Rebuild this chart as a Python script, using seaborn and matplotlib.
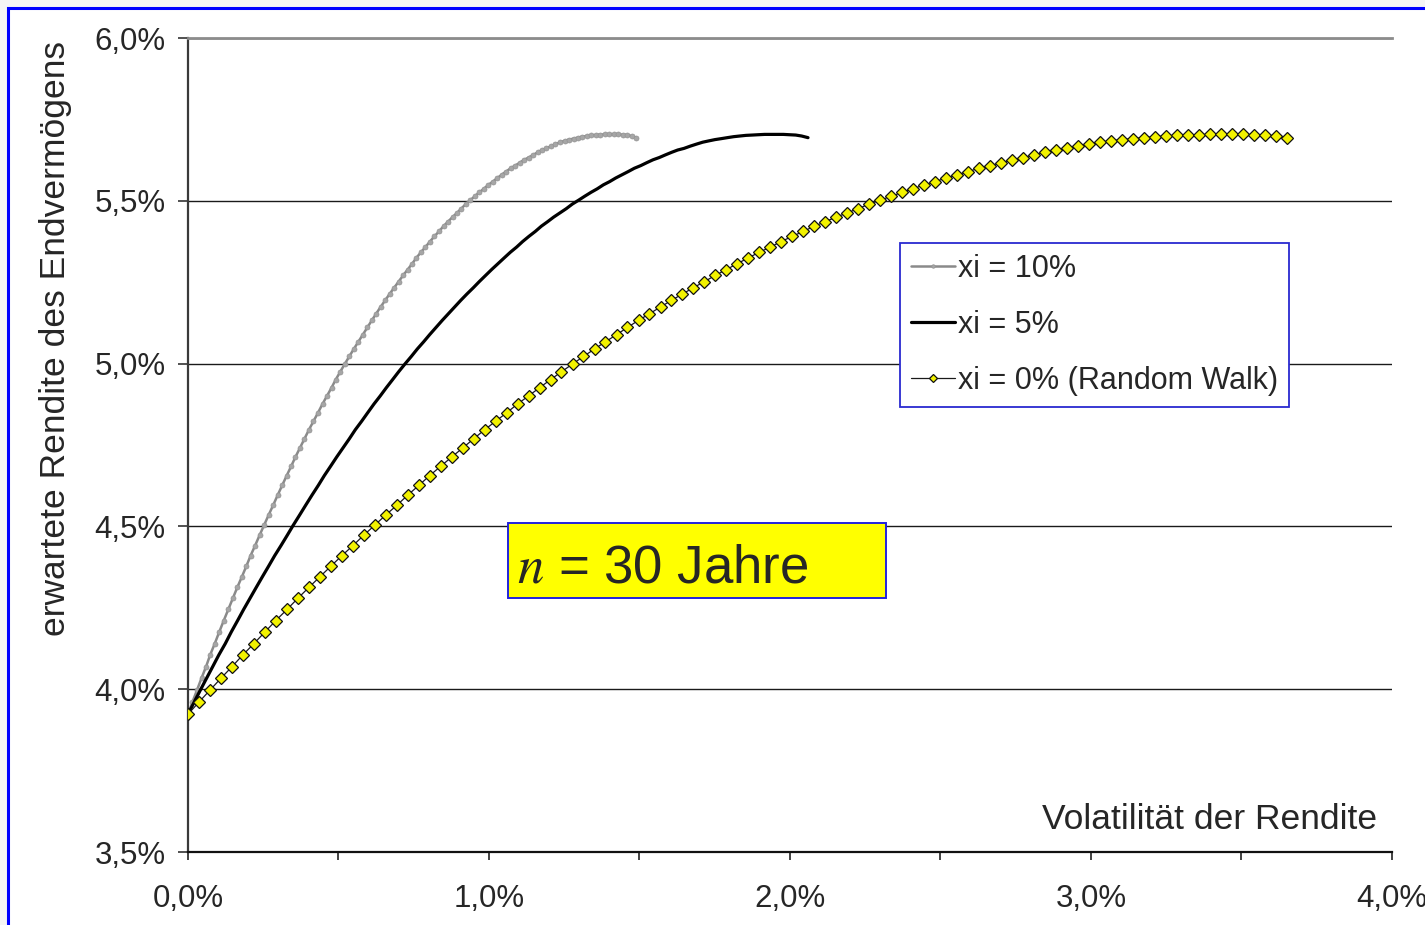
import matplotlib
matplotlib.use("Agg")
import matplotlib.pyplot as plt
import seaborn as sns
from matplotlib.patches import Rectangle
from matplotlib.ticker import MultipleLocator, FuncFormatter

# expected return of final wealth (same levels on all three curves)
rendite = [3.923, 3.961, 3.997, 4.034, 4.069, 4.106, 4.140, 4.176, 4.211, 4.245,
           4.279, 4.313, 4.345, 4.378, 4.410, 4.441, 4.473, 4.504, 4.535, 4.565,
           4.596, 4.626, 4.656, 4.685, 4.713, 4.741, 4.769, 4.797, 4.823, 4.849,
           4.876, 4.901, 4.926, 4.951, 4.975, 4.999, 5.022, 5.045, 5.067, 5.089,
           5.111, 5.133, 5.153, 5.174, 5.194, 5.214, 5.233, 5.252, 5.271, 5.289,
           5.307, 5.325, 5.342, 5.358, 5.375, 5.391, 5.406, 5.422, 5.436, 5.450,
           5.463, 5.476, 5.490, 5.502, 5.514, 5.526, 5.537, 5.549, 5.559, 5.570,
           5.580, 5.590, 5.600, 5.608, 5.617, 5.626, 5.633, 5.641, 5.649, 5.656,
           5.661, 5.668, 5.674, 5.680, 5.684, 5.688, 5.691, 5.694, 5.697, 5.699,
           5.701, 5.702, 5.703, 5.704, 5.704, 5.704, 5.704, 5.703, 5.702, 5.699,
           5.694]

# volatility, xi = 10%
vol_10 = [0.000, 0.015, 0.030, 0.045, 0.060, 0.074, 0.089, 0.104, 0.119, 0.134,
          0.149, 0.164, 0.179, 0.194, 0.208, 0.223, 0.238, 0.253, 0.268, 0.283,
          0.298, 0.313, 0.328, 0.343, 0.357, 0.372, 0.387, 0.402, 0.417, 0.432,
          0.447, 0.462, 0.477, 0.491, 0.506, 0.521, 0.536, 0.551, 0.566, 0.581,
          0.596, 0.611, 0.625, 0.640, 0.655, 0.670, 0.685, 0.700, 0.715, 0.730,
          0.745, 0.759, 0.774, 0.789, 0.804, 0.819, 0.834, 0.849, 0.864, 0.879,
          0.894, 0.908, 0.923, 0.938, 0.953, 0.968, 0.983, 0.998, 1.013, 1.028,
          1.042, 1.057, 1.072, 1.087, 1.102, 1.117, 1.132, 1.147, 1.162, 1.176,
          1.191, 1.206, 1.221, 1.236, 1.251, 1.266, 1.281, 1.296, 1.310, 1.325,
          1.340, 1.355, 1.370, 1.385, 1.400, 1.415, 1.430, 1.445, 1.459, 1.474,
          1.489]

# volatility, xi = 5%
vol_5 = [0.000, 0.021, 0.041, 0.062, 0.082, 0.103, 0.124, 0.144, 0.165, 0.185,
         0.206, 0.227, 0.247, 0.268, 0.288, 0.309, 0.330, 0.350, 0.371, 0.391,
         0.412, 0.433, 0.453, 0.474, 0.494, 0.515, 0.536, 0.556, 0.577, 0.597,
         0.618, 0.639, 0.659, 0.680, 0.700, 0.721, 0.742, 0.762, 0.783, 0.803,
         0.824, 0.845, 0.865, 0.886, 0.906, 0.927, 0.948, 0.968, 0.989, 1.009,
         1.030, 1.051, 1.071, 1.092, 1.112, 1.133, 1.154, 1.174, 1.195, 1.215,
         1.236, 1.257, 1.277, 1.298, 1.318, 1.339, 1.360, 1.380, 1.401, 1.421,
         1.442, 1.463, 1.483, 1.504, 1.524, 1.545, 1.566, 1.586, 1.607, 1.627,
         1.648, 1.669, 1.689, 1.710, 1.730, 1.751, 1.772, 1.792, 1.813, 1.833,
         1.854, 1.875, 1.895, 1.916, 1.936, 1.957, 1.978, 1.998, 2.019, 2.039,
         2.060]

# volatility, xi = 0% (random walk)
vol_0 = [0.000, 0.037, 0.073, 0.110, 0.146, 0.183, 0.219, 0.256, 0.292, 0.329,
         0.365, 0.402, 0.438, 0.475, 0.511, 0.548, 0.584, 0.621, 0.657, 0.694,
         0.730, 0.767, 0.803, 0.840, 0.876, 0.913, 0.949, 0.986, 1.022, 1.059,
         1.095, 1.132, 1.168, 1.205, 1.241, 1.278, 1.314, 1.351, 1.387, 1.424,
         1.460, 1.497, 1.533, 1.570, 1.606, 1.643, 1.679, 1.716, 1.752, 1.789,
         1.825, 1.862, 1.898, 1.935, 1.971, 2.008, 2.044, 2.081, 2.117, 2.154,
         2.190, 2.227, 2.263, 2.300, 2.336, 2.373, 2.409, 2.446, 2.482, 2.519,
         2.555, 2.592, 2.628, 2.665, 2.701, 2.738, 2.774, 2.811, 2.847, 2.884,
         2.920, 2.957, 2.993, 3.030, 3.066, 3.103, 3.139, 3.176, 3.212, 3.249,
         3.285, 3.322, 3.358, 3.395, 3.431, 3.468, 3.504, 3.541, 3.577, 3.614,
         3.650]

labels = ["xi = 10%", "xi = 5%", "xi = 0% (Random Walk)"]

sns.set_style("white")
plt.rcParams['font.family'] = ['Liberation Sans', 'DejaVu Sans']
plt.rcParams['mathtext.fontset'] = 'stix'

fig = plt.figure(figsize=(14.25, 9.25), dpi=100, facecolor='#f5f5f5')
# blue frame around the whole chart
fig.add_artist(Rectangle((0.0056, -0.05), 1.1, 1.0414, transform=fig.transFigure,
                         facecolor='white', edgecolor='#0000ff', lw=2.2, zorder=0))
ax = fig.add_axes([0.1319, 0.0789, 0.8449, 0.880])
ax.set_facecolor('none')

sns.lineplot(x=vol_10, y=rendite, ax=ax, sort=False, estimator=None,
             color='#8a8a8a', lw=1.8, marker='o', markersize=3.6,
             markerfacecolor='#a6a6a6', markeredgecolor='#939393', markeredgewidth=0.5,
             label=labels[0], zorder=3)
sns.lineplot(x=vol_5, y=rendite, ax=ax, sort=False, estimator=None,
             color='black', lw=2.3, label=labels[1], zorder=3)
sns.lineplot(x=vol_0, y=rendite, ax=ax, sort=False, estimator=None,
             color='#1a1a1a', lw=0.9, marker='D', markersize=6.0,
             markerfacecolor='#f2f200', markeredgecolor='#111111', markeredgewidth=0.9,
             label=labels[2], zorder=4)

ax.set_xlim(0, 4)
ax.set_ylim(3.5, 6.0)
ax.xaxis.set_major_locator(MultipleLocator(1.0))
ax.xaxis.set_minor_locator(MultipleLocator(0.5))
ax.yaxis.set_major_locator(MultipleLocator(0.5))
pct = FuncFormatter(lambda v, p: f"{v:.1f}%".replace('.', ','))
ax.xaxis.set_major_formatter(pct)
ax.yaxis.set_major_formatter(pct)

ax.tick_params(axis='x', which='both', direction='out', length=6, width=1.2,
               color='#222222', labelsize=22.5, pad=17, bottom=True)
ax.tick_params(axis='y', which='major', direction='out', length=7, width=1.2,
               color='#333333', labelsize=22.5, pad=9, left=True)

ax.yaxis.grid(True, color='#1a1a1a', lw=1.0)
ax.xaxis.grid(False)
ax.get_ygridlines()[-1].set_visible(False)
ax.get_ygridlines()[0].set_visible(False)

ax.spines['right'].set_visible(False)
ax.spines['top'].set_color('#8c8c8c')
ax.spines['top'].set_linewidth(2.0)
ax.spines['left'].set_color('#3a3a3a')
ax.spines['left'].set_linewidth(1.6)
ax.spines['bottom'].set_color('#111111')
ax.spines['bottom'].set_linewidth(1.6)

ax.set_xlabel("Volatilität der Rendite", fontsize=25.5, ha='right', va='baseline')
ax.xaxis.set_label_coords(0.988, 0.028)
ax.set_ylabel("erwartete Rendite des Endvermögens", fontsize=25.5)
ax.yaxis.set_label_coords(-0.096, 0.631)

leg = ax.legend(loc='upper left', bbox_to_anchor=(0.5914, 0.748), fontsize=22,
                frameon=True, fancybox=False, edgecolor='#2a2ad0',
                handlelength=1.45, handletextpad=0.1, labelspacing=0.85,
                borderpad=0.36, borderaxespad=0, markerscale=0.7)
leg.get_frame().set_linewidth(1.3)
leg.get_frame().set_facecolor('white')
leg.get_frame().set_alpha(1)

ax.add_patch(Rectangle((0.2658, 0.312), 0.3139, 0.0922, transform=ax.transAxes,
                       facecolor='#ffff00', edgecolor='#2222dd', lw=1.4, zorder=5))
ax.text(0.2733, 0.3317, r"$n$ = 30 Jahre", transform=ax.transAxes,
        fontsize=38, ha='left', va='baseline', zorder=6)

fig.savefig("out.png", dpi=100, facecolor=fig.get_facecolor())
